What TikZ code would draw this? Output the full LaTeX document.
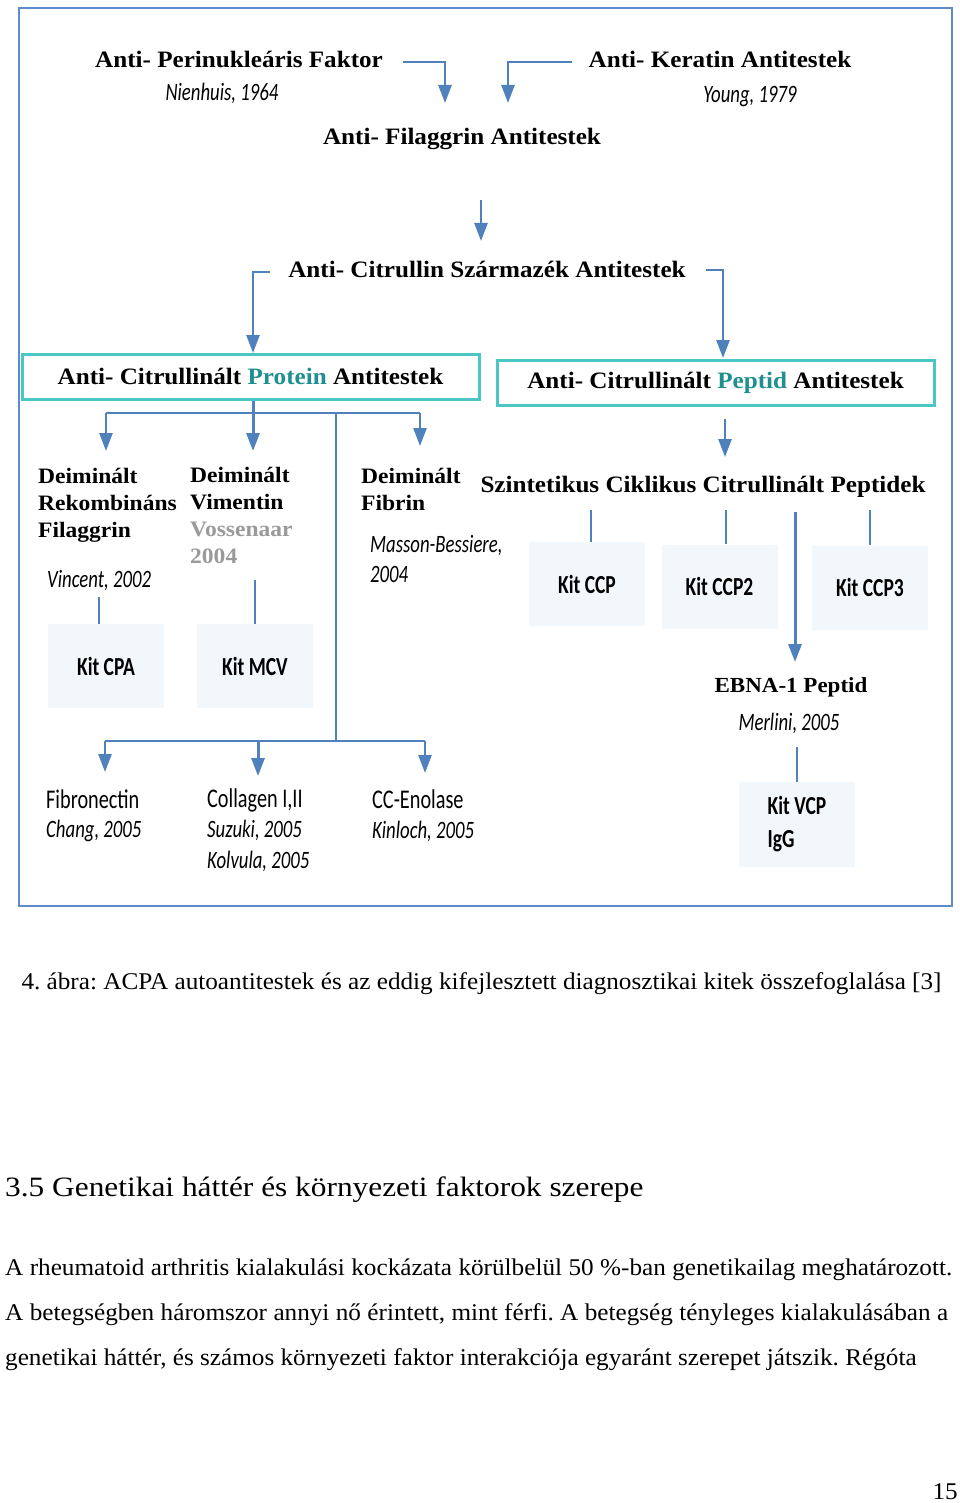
\documentclass[tikz,border=0pt]{standalone}
\usepackage{fontspec}
\setmainfont{Liberation Serif}[FakeStretch=1.05]
\newfontfamily\lblfont[FakeStretch=1.07]{Liberation Serif}
\newfontfamily\headfont[FakeStretch=1.12]{Liberation Serif}
\newfontfamily\condsans[FakeStretch=0.75]{Carlito}
\usetikzlibrary{arrows.meta}
\definecolor{arrblue}{HTML}{4F81BD}
\definecolor{framecol}{HTML}{5E8CCB}
\definecolor{tealbox}{HTML}{4BC6C6}
\definecolor{tealtext}{HTML}{1F8F8F}
\definecolor{kitfill}{HTML}{F2F7FC}
\definecolor{vgray}{HTML}{9A9A9A}
\frenchspacing

\begin{document}
\begin{tikzpicture}
  [x=1pt,y=-1pt,
   lbl/.style={inner sep=0,anchor=base,font=\lblfont\bfseries\fontsize{23.5}{28}\selectfont},
   sub/.style={inner sep=0,anchor=base west,align=left,font=\lblfont\bfseries\fontsize{22}{27}\selectfont},
   yr/.style={inner sep=0,anchor=base west,align=left,font=\condsans\itshape\fontsize{25}{30}\selectfont},
   kit/.style={fill=kitfill,inner sep=0,minimum width=116pt,minimum height=84pt,font=\condsans\bfseries\fontsize{26}{33}\selectfont},
   acbox/.style={draw=tealbox,line width=3pt,inner sep=0,minimum height=45pt,font=\lblfont\bfseries\fontsize{23.5}{28}\selectfont},
   arr/.style={draw=arrblue,line width=2.5pt,-{Triangle[length=18pt,width=13pt]}},
   conn/.style={draw=arrblue,line width=2pt},
   body/.style={inner sep=0,anchor=base west,font=\fontsize{24}{29}\selectfont}]
  \fill[white] (0,0) rectangle (960,1503);
  \useasboundingbox (0,0) rectangle (960,1503);
  \draw[framecol,line width=2pt] (19,8) rectangle (952,906);

  \node[lbl] (npf) at (239,68) {Anti- Perinukleáris Faktor};
  \node[yr,anchor=base] (nnie) at (222,101) {Nienhuis, 1964};
  \node[lbl] (nker) at (720,68) {Anti- Keratin Antitestek};
  \node[yr,anchor=base] (nyou) at (750,103) {Young, 1979};
  \node[lbl] (nfil) at (462,145) {Anti- Filaggrin Antitestek};
  \node[lbl] (ncsa) at (487,278) {Anti- Citrullin Származék Antitestek};
  \node[acbox,minimum width=457pt] (nacp) at (250.5,376.5) {Anti- Citrullinált \textcolor{tealtext}{Protein} Antitestek};
  \node[acbox,minimum width=437pt] (nacpep) at (715.5,382.5) {Anti- Citrullinált \textcolor{tealtext}{Peptid} Antitestek};

  \coordinate (cpf) at (403,62);
  \coordinate (tpf) at (445,103);
  \coordinate (cker) at (572,62);
  \coordinate (tker) at (508,103);
  \coordinate (cfil) at (481,200);
  \coordinate (tfil) at (481,241);
  \coordinate (ccl) at (270,272);
  \coordinate (tcl) at (253,353);
  \coordinate (ccr) at (706,270);
  \coordinate (tcr) at (723,358);
  \draw[arr] (cpf) -| (tpf);
  \draw[arr] (cker) -| (tker);
  \draw[arr] (cfil) -- (tfil);
  \draw[arr] (ccl) -| (tcl);
  \draw[arr] (ccr) -| (tcr);

  \node[sub] (ndrf) at (38,537) {Deiminált\\Rekombináns\\Filaggrin};
  \node[sub] (ndvi) at (190,563) {Deiminált\\Vimentin\\\textcolor{vgray}{Vossenaar}\\\textcolor{vgray}{2004}};
  \node[sub] (ndfi) at (361,510) {Deiminált\\Fibrin};
  \node[yr] (nvin) at (47,587) {Vincent, 2002};
  \node[yr] (nmas) at (370,582) {Masson-Bessiere,\\2004};
  \node[kit] (kcpa) at (106,666) {Kit CPA};
  \node[kit] (kmcv) at (255,666) {Kit MCV};

  \coordinate (hprot) at (106,413);
  \coordinate (tdrf) at (106,451);
  \coordinate (tdvi) at (253,451);
  \coordinate (tdfi) at (420,446);
  \coordinate (hsplit) at (336,413);
  \coordinate (hlow) at (336,741);
  \draw[conn,line width=2.5pt] (hprot) -- (tdfi |- hprot);
  \draw[arr] (hprot) -- (tdrf);
  \draw[arr,line width=3pt] (tdvi |- nacp.south) -- (tdvi);
  \draw[arr] (tdfi |- hprot) -- (tdfi);
  \draw[conn] (hsplit) -- (hlow);
  \coordinate (vcpa) at (98.5,597);
  \coordinate (vmcv) at (255,580);
  \draw[conn] (vcpa) -- (vcpa |- kcpa.north);
  \draw[conn] (vmcv) -- (vmcv |- kmcv.north);

  \node[lbl] (nszi) at (703,492) {Szintetikus Ciklikus Citrullinált Peptidek};
  \node[kit] (kccp) at (587,584) {Kit CCP};
  \node[kit] (kccp2) at (719.5,586.5) {Kit CCP2};
  \node[kit] (kccp3) at (870,587.5) {Kit CCP3};
  \node[lbl,font=\lblfont\bfseries\fontsize{21.5}{26}\selectfont] (nebn) at (791,692) {EBNA-1 Peptid};
  \node[yr,anchor=base] (nmer) at (789,730) {Merlini, 2005};
  \node[kit,minimum height=85pt,align=left] (kvcp) at (797,824.5) {Kit VCP\\IgG};

  \coordinate (tszi) at (725,457);
  \coordinate (vccp) at (591,510);
  \coordinate (vccp2) at (726,510);
  \coordinate (vccp3) at (870,510);
  \coordinate (vebn) at (795,512);
  \coordinate (tebn) at (795,662);
  \coordinate (vvcp) at (797,747);
  \draw[arr] (tszi |- nacpep.south) ++(0,12) -- (tszi);
  \draw[conn,line width=2.5pt] (vccp) -- (vccp |- kccp.north) ++(0,-5);
  \draw[conn] (vccp2) -- (vccp2 |- kccp2.north) ++(0,-5);
  \draw[conn,line width=2.5pt] (vccp3) -- (vccp3 |- kccp3.north) ++(0,-5);
  \draw[arr,line width=3pt] (vebn) -- (tebn);
  \draw[conn,line width=1.5pt] (vvcp) -- (vvcp |- kvcp.north) ++(0,-6);

  \node[yr,font=\condsans\fontsize{27}{29}\selectfont] (nfib) at (46,837) {Fibronectin\\\itshape\fontsize{25}{29}\selectfont Chang, 2005};
  \node[yr,font=\condsans\fontsize{27}{30.5}\selectfont] (ncol) at (207,868) {Collagen I,II\\\itshape\fontsize{25}{30.5}\selectfont Suzuki, 2005\\\itshape\fontsize{25}{30.5}\selectfont Kolvula, 2005};
  \node[yr,font=\condsans\fontsize{27}{30}\selectfont] (nccen) at (372,838) {CC-Enolase\\\itshape\fontsize{25}{30}\selectfont Kinloch, 2005};
  \coordinate (tfib) at (105,772);
  \coordinate (tcol) at (258,776);
  \coordinate (tccen) at (425,773);
  \draw[conn,line width=2.5pt] (tfib |- hlow) -- (tccen |- hlow);
  \draw[arr] (tfib |- hlow) -- (tfib);
  \draw[arr,line width=3pt] (tcol |- hlow) -- (tcol);
  \draw[arr] (tccen |- hlow) -- (tccen);

  \node[body,anchor=base] (ncap) at (481.5,989) {4. ábra: ACPA autoantitestek és az eddig kifejlesztett diagnosztikai kitek összefoglalása [3]};
  \node[inner sep=0,anchor=base west,font=\headfont\fontsize{28}{34}\selectfont] (nhead) at (5,1196) {3.5 Genetikai háttér és környezeti faktorok szerepe};
  \node[body] (npar1) at (5,1275) {\hbox to 947pt{A rheumatoid arthritis kialakulási kockázata körülbelül 50 \%-ban genetikailag meghatározott.}};
  \node[body] (npar2) at (5,1320) {\hbox to 943pt{A betegségben háromszor annyi nő érintett, mint férfi. A betegség tényleges kialakulásában a}};
  \node[body] (npar3) at (5,1365) {genetikai háttér, és számos környezeti faktor interakciója egyaránt szerepet játszik. Régóta};
  \node[body,anchor=base east] (npage) at (958,1499) {15};
\end{tikzpicture}
\end{document}
